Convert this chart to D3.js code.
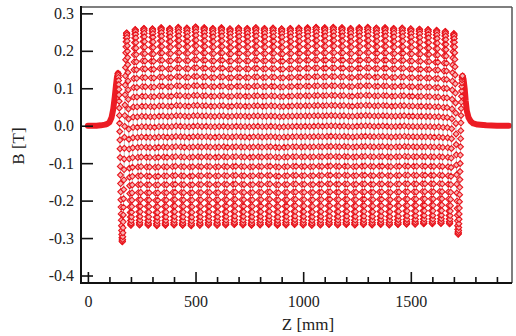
<!DOCTYPE html>
<html>
<head>
<meta charset="utf-8">
<script src="https://cdn.jsdelivr.net/npm/d3@7"></script>
<style>
  html, body { margin: 0; padding: 0; background: #fff; }
  svg text { font-family: "Liberation Serif", "Times New Roman", serif; fill: #222; }
</style>
</head>
<body>
<div id="chart"></div>
<script>
// undulator field scan, B [T] vs Z [mm]

// pole positions: first pole at 140 mm, one pole every 20 mm
const firstPoleZ = 140;
const halfPeriod = 20;
// peak field of each pole (entry pole -> exit pole)
const poleB = [
  0.14, -0.31,
  0.248, -0.266, 0.257, -0.265, 0.26, -0.266, 0.259, -0.267, 0.262, -0.266,
  0.26, -0.265, 0.263, -0.266, 0.261, -0.267, 0.264, -0.266, 0.262, -0.265,
  0.26, -0.266, 0.262, -0.265, 0.259, -0.264, 0.261, -0.265, 0.26, -0.266,
  0.262, -0.265, 0.26, -0.264, 0.261, -0.266, 0.259, -0.265, 0.26, -0.264,
  0.261, -0.265, 0.262, -0.266, 0.263, -0.265, 0.262, -0.264, 0.263, -0.265,
  0.262, -0.264, 0.26, -0.265, 0.262, -0.264, 0.263, -0.265, 0.261, -0.264,
  0.262, -0.265, 0.26, -0.264, 0.261, -0.263, 0.259, -0.263, 0.258, -0.262,
  0.257, -0.262, 0.255, -0.261, 0.252, -0.262, 0.246,
  -0.29, 0.133
];
// shape of one half period between two poles (normalised)
const halfWave = [
  -1, -0.994, -0.978, -0.951, -0.914, -0.866, -0.809, -0.743, -0.669, -0.588,
  -0.5, -0.407, -0.309, -0.208, -0.105, 0, 0.105, 0.208, 0.309, 0.407,
  0.5, 0.588, 0.669, 0.743, 0.809, 0.866, 0.914, 0.951, 0.978, 0.994, 1
];
// entry / exit fringe field
const entryZ = [0, 20, 40, 60, 80, 90, 100, 110, 118, 125, 130, 135, 140];
const entryB = [0, 0, 0, 0.001, 0.003, 0.005, 0.009, 0.022, 0.045, 0.078, 0.105, 0.13, 0.14];
const exitZ = [1740, 1745, 1750, 1755, 1760, 1768, 1778, 1790, 1810, 1850, 1900, 1955];
const exitB = [0.133, 0.124, 0.1, 0.066, 0.04, 0.022, 0.012, 0.006, 0.003, 0.001, 0, 0];

const yTicks = [-0.4, -0.3, -0.2, -0.1, 0, 0.1, 0.2, 0.3];
const xMajor = [0, 500, 1000, 1500];
const xMinor = d3.range(100, 2000, 100).filter(d => d % 500 !== 0);

const width = 516, height = 336;
const margin = {top: 7, right: 4, bottom: 53, left: 81};

const svg = d3.select('#chart').append('svg')
  .attr('width', width)
  .attr('height', height);

const xScale = d3.scaleLinear()
  .domain([-32, 1970])
  .range([margin.left, width - margin.right]);
const yScale = d3.scaleLinear()
  .domain([-0.42, 0.317])
  .range([height - margin.bottom, margin.top]);

// build the scan points
let body = [];
for (let i = 0; i < poleB.length - 1; i++) {
  const a = poleB[i], b = poleB[i + 1];
  const mid = (a + b) / 2, half = (b - a) / 2;
  const z0 = firstPoleZ + i * halfPeriod;
  const n = halfWave.length - 1;
  const last = (i === poleB.length - 2) ? n : n - 1;
  for (let k = 0; k <= last; k++) {
    body.push({z: z0 + k * halfPeriod / n, b: mid + half * halfWave[k]});
  }
}
const entry = entryZ.map((z, i) => ({z: z, b: entryB[i]}));
const exit = exitZ.map((z, i) => ({z: z, b: exitB[i]}));

const line = d3.line()
  .x(d => xScale(d.z))
  .y(d => yScale(d.b));

const plot = svg.append('g');

// thin grey connecting line
plot.append('path')
  .attr('d', line(body))
  .attr('fill', 'none')
  .attr('stroke', '#a8a8a8')
  .attr('stroke-width', 0.7);

// fringe fields: markers are so dense they merge into a thick red line
[entry, exit].forEach(tail => {
  plot.append('path')
    .attr('d', line(tail))
    .attr('fill', 'none')
    .attr('stroke', '#ec1c24')
    .attr('stroke-width', 6)
    .attr('stroke-linecap', 'round')
    .attr('stroke-linejoin', 'round');
});

const symType = d3.symbolDiamond2 || d3.symbolDiamond;
const sym = d3.symbol().type(symType).size(22)();

plot.selectAll('.pt')
  .data(body)
  .enter()
  .append('path')
  .attr('class', 'pt')
  .attr('d', sym)
  .attr('transform', d => `translate(${xScale(d.z)},${yScale(d.b)})`)
  .attr('fill', '#f7b4b4')
  .attr('stroke', '#e8141c')
  .attr('stroke-width', 1.1);

// axes, ticks pointing inward
const fmt = d => d.toFixed(1);
const yAxis = svg.append('g')
  .attr('transform', `translate(${margin.left},0)`)
  .call(d3.axisLeft(yScale).tickValues(yTicks).tickFormat(fmt).tickSize(-12).tickSizeOuter(0).tickPadding(7));

const xAxisMinor = svg.append('g')
  .attr('transform', `translate(0,${height - margin.bottom})`)
  .call(d3.axisBottom(xScale).tickValues(xMinor).tickFormat('').tickSize(-6).tickSizeOuter(0));
const xAxis = svg.append('g')
  .attr('transform', `translate(0,${height - margin.bottom})`)
  .call(d3.axisBottom(xScale).tickValues(xMajor).tickFormat(d3.format('d')).tickSize(-11).tickSizeOuter(0).tickPadding(13));

[yAxis, xAxis, xAxisMinor].forEach(ax => {
  ax.select('.domain').remove();
  ax.selectAll('line').attr('stroke', '#111').attr('stroke-width', 1.6);
  ax.selectAll('text').style('font-size', '16px').attr('fill', '#222');
});

// frame
const x0 = margin.left, x1 = width - margin.right;
const y0 = margin.top, y1 = height - margin.bottom;
svg.append('line').attr('x1', x0).attr('x2', x1).attr('y1', y0).attr('y2', y0)
  .attr('stroke', '#555').attr('stroke-width', 1.5);
svg.append('line').attr('x1', x1).attr('x2', x1).attr('y1', y0).attr('y2', y1)
  .attr('stroke', '#555').attr('stroke-width', 1.5);
svg.append('line').attr('x1', x0).attr('x2', x0).attr('y1', y0 - 1).attr('y2', y1 + 1)
  .attr('stroke', '#111').attr('stroke-width', 2);
svg.append('line').attr('x1', x0 - 1).attr('x2', x1).attr('y1', y1).attr('y2', y1)
  .attr('stroke', '#111').attr('stroke-width', 2);

// axis titles
svg.append('text')
  .attr('x', 308)
  .attr('y', 330)
  .attr('text-anchor', 'middle')
  .style('font-size', '17px')
  .text('Z [mm]');
svg.append('text')
  .attr('transform', 'translate(24,146) rotate(-90)')
  .attr('text-anchor', 'middle')
  .style('font-size', '17px')
  .text('B [T]');
</script>
</body>
</html>
